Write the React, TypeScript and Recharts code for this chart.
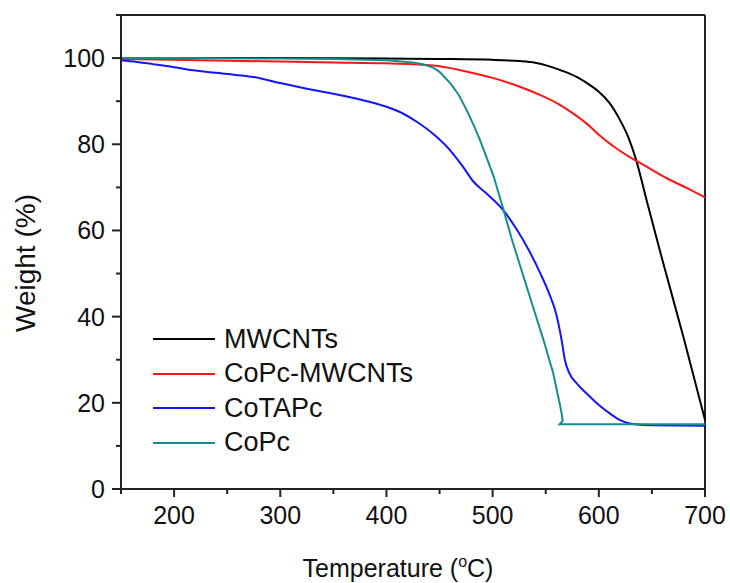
import { Line, LineChart, ReferenceLine, XAxis, YAxis } from "recharts";

document.body.style.margin = "0";

const FONT = '"Liberation Sans", Arial, sans-serif';
const AXIS = "#222";

const xTicks = [150, 200, 250, 300, 350, 400, 450, 500, 550, 600, 650, 700];
const yTicks = [0, 10, 20, 30, 40, 50, 60, 70, 80, 90, 100, 110];

const mwcntsTemp = [150, 200, 300, 400, 450, 500, 525, 540, 552, 565, 580, 590, 600, 610, 620, 628, 635, 645, 660, 680, 700];
const mwcntsWeight = [100, 100, 100, 99.9, 99.8, 99.6, 99.3, 98.9, 98.2, 97.1, 95.5, 94, 92.2, 89.6, 85.6, 81.5, 76.5, 67, 53, 35, 16];

const copcMwTemp = [150, 200, 250, 300, 350, 400, 430, 450, 475, 500, 525, 545, 560, 575, 590, 600, 615, 630, 645, 665, 685, 700];
const copcMwWeight = [99.8, 99.6, 99.4, 99.2, 99, 98.8, 98.5, 98.1, 96.9, 95.4, 93.4, 91.4, 89.6, 87.3, 84.5, 82.2, 79.3, 76.9, 74.8, 72, 69.6, 67.7];

const cotapcTemp = [150, 165, 180, 200, 220, 250, 275, 300, 325, 350, 375, 400, 415, 430, 445, 460, 472, 482, 495, 510, 522, 535, 545, 553, 560, 565, 568, 572, 580, 590, 600, 610, 620, 632, 650, 700];
const cotapcWeight = [99.5, 99.1, 98.6, 97.9, 97.1, 96.3, 95.6, 94.2, 92.9, 91.7, 90.4, 88.7, 87.2, 85, 82.2, 78.6, 74.8, 71.3, 68.4, 64.7, 60.5, 55, 50, 45.5, 40.5, 34.5, 30, 27, 24.3, 21.8, 19.5, 17.6, 16, 15.1, 14.8, 14.7];

const copcTemp = [150, 200, 300, 350, 400, 425, 435, 444, 450, 455, 460, 468, 475, 482, 488, 495, 501, 510, 518, 525, 538, 548, 557, 563, 565, 566, 563, 600, 700];
const copcWeight = [100, 100, 99.9, 99.8, 99.5, 99, 98.5, 97.8, 96.8, 95.5, 94.2, 91.5, 88.2, 84.5, 81, 76.5, 72.5, 65, 58, 52.5, 42.3, 34.5, 26.9, 20, 17.5, 15.8, 15, 15, 15];

const toPoints = (temps: number[], weights: number[]) =>
  temps.map((t, i) => ({ t, w: weights[i] }));

const series = [
  { name: "MWCNTs", color: "#000000", curve: "monotone", data: toPoints(mwcntsTemp, mwcntsWeight) },
  { name: "CoPc-MWCNTs", color: "#ff1414", curve: "monotone", data: toPoints(copcMwTemp, copcMwWeight) },
  { name: "CoTAPc", color: "#1414ff", curve: "monotone", data: toPoints(cotapcTemp, cotapcWeight) },
  { name: "CoPc", color: "#148f8f", curve: "linear", data: toPoints(copcTemp, copcWeight) },
];

function XTick({ x, y, payload }: any) {
  const major = payload.value % 100 === 0;
  return (
    <g>
      <line x1={x} y1={y} x2={x} y2={y + (major ? 8 : 5)} stroke={AXIS} strokeWidth={2} />
      {major && (
        <text x={x} y={y + 35} textAnchor="middle" fontSize={25} fill="#111" fontFamily={FONT}>
          {payload.value}
        </text>
      )}
    </g>
  );
}

function YTick({ x, y, payload }: any) {
  const major = payload.value % 20 === 0;
  return (
    <g>
      <line x1={x - (major ? 9 : 5)} y1={y} x2={x} y2={y} stroke={AXIS} strokeWidth={2} />
      {major && (
        <text x={x - 16} y={y} dy="0.36em" textAnchor="end" fontSize={25} fill="#111" fontFamily={FONT}>
          {payload.value}
        </text>
      )}
    </g>
  );
}

function XTitle({ viewBox }: any) {
  const cx = viewBox.x + viewBox.width / 2 - 15;
  return (
    <text x={cx} y={viewBox.y + 88} textAnchor="middle" fontSize={25} fill="#111" fontFamily={FONT}>
      Temperature (
      <tspan fontSize={16} dy={-10}>o</tspan>
      <tspan dy={10}>C)</tspan>
    </text>
  );
}

function YTitle({ viewBox }: any) {
  const cy = viewBox.y + viewBox.height / 2 + 11;
  const cx = 25;
  return (
    <text
      x={cx}
      y={cy}
      transform={`rotate(-90 ${cx} ${cy})`}
      dy="0.35em"
      textAnchor="middle"
      fontSize={28}
      fill="#111"
      fontFamily={FONT}
    >
      Weight (%)
    </text>
  );
}

function LegendBox() {
  return (
    <div
      style={{
        position: "absolute",
        left: 153,
        top: 322,
        fontFamily: FONT,
        fontSize: 27,
        color: "#111",
        pointerEvents: "none",
      }}
    >
      {series.map((s) => (
        <div key={s.name} style={{ display: "flex", alignItems: "center", height: 34.5 }}>
          <svg width={62} height={4} style={{ marginRight: 9 }}>
            <line x1={0} y1={2} x2={62} y2={2} stroke={s.color} strokeWidth={2} />
          </svg>
          <span>{s.name}</span>
        </div>
      ))}
    </div>
  );
}

export default function App() {
  return (
    <div style={{ position: "relative", width: 730, height: 583, background: "#fff" }}>
      <LineChart width={730} height={583} margin={{ top: 15, right: 25, bottom: 0, left: 0 }}>
        <XAxis
          type="number"
          dataKey="t"
          domain={[150, 700]}
          ticks={xTicks}
          interval={0}
          allowDuplicatedCategory={false}
          height={94}
          tickSize={0}
          tickMargin={0}
          tick={<XTick />}
          axisLine={{ stroke: AXIS, strokeWidth: 2 }}
          label={<XTitle />}
        />
        <YAxis
          type="number"
          dataKey="w"
          domain={[0, 110]}
          ticks={yTicks}
          interval={0}
          width={121}
          tickSize={0}
          tickMargin={0}
          tick={<YTick />}
          axisLine={{ stroke: AXIS, strokeWidth: 2 }}
          label={<YTitle />}
        />
        <ReferenceLine y={110} stroke={AXIS} strokeWidth={2} />
        <ReferenceLine x={700} stroke={AXIS} strokeWidth={2} />
        {series.map((s) => (
          <Line
            key={s.name}
            data={s.data}
            dataKey="w"
            name={s.name}
            type={s.curve as any}
            stroke={s.color}
            strokeWidth={2}
            dot={false}
            isAnimationActive={false}
          />
        ))}
      </LineChart>
      <LegendBox />
    </div>
  );
}
